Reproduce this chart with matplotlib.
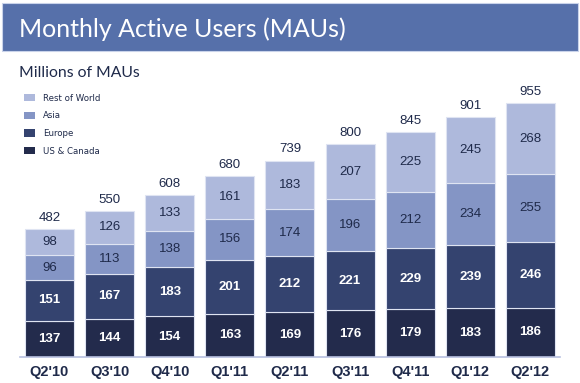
import matplotlib
matplotlib.use("Agg")
import matplotlib.pyplot as plt
from matplotlib.patches import Rectangle
import numpy as np

quarters = ["Q2'10", "Q3'10", "Q4'10", "Q1'11", "Q2'11", "Q3'11", "Q4'11", "Q1'12", "Q2'12"]
us_canada = [137, 144, 154, 163, 169, 176, 179, 183, 186]
europe = [151, 167, 183, 201, 212, 221, 229, 239, 246]
asia = [96, 113, 138, 156, 174, 196, 212, 234, 255]
rest_of_world = [98, 126, 133, 161, 183, 207, 225, 245, 268]
totals = [482, 550, 608, 680, 739, 800, 845, 901, 955]

series = [
    ("US & Canada", us_canada, "#232b4c", "white", "bold"),
    ("Europe", europe, "#34436f", "white", "bold"),
    ("Asia", asia, "#8495c5", "#1f2a4a", "normal"),
    ("Rest of World", rest_of_world, "#aeb9dc", "#1f2a4a", "normal"),
]

W, H = 580, 383
fig = plt.figure(figsize=(W / 100, H / 100), dpi=100)
fig.patch.set_facecolor("white")

# banner
bx0, by0, bx1, by1 = 2, 3, 578, 51
fig.patches.append(Rectangle((bx0 / W, 1 - by1 / H), (bx1 - bx0) / W, (by1 - by0) / H,
                             transform=fig.transFigure, facecolor="#5670aa",
                             edgecolor="#c9d3ea", linewidth=0.8))
fig.text(19 / W, 1 - 29 / H, "Monthly Active Users (MAUs)", color="white",
         fontsize=18, family="Lato", va="center", ha="left")
fig.text(19 / W, 1 - 73 / H, "Millions of MAUs", color="#1f2a4a",
         fontsize=11.3, family="Lato", va="center", ha="left")

# axes
ax_left, ax_right = 20, 560
ax_top, ax_base = 90, 357
ax = fig.add_axes([ax_left / W, 1 - ax_base / H, (ax_right - ax_left) / W, (ax_base - ax_top) / H])
pitch = 60.1
c0 = 49.5
ax.set_xlim((ax_left - c0) / pitch, (ax_right - c0) / pitch)
scale = 0.266
ax.set_ylim(0, (ax_base - ax_top) / scale)

x = np.arange(len(quarters))
bottom = np.zeros(len(quarters))
for name, vals, col, tcol, tw in series:
    vals = np.array(vals, dtype=float)
    ax.bar(x, vals, bottom=bottom, width=49 / pitch, color=col, edgecolor="#dfe4f2",
           linewidth=0.8, label=name, zorder=2)
    for xi, b, v in zip(x, bottom, vals):
        ax.text(xi, b + v / 2, f"{int(v)}", ha="center", va="center", color=tcol,
                fontsize=9.5, fontweight=tw, family="Liberation Sans")
    bottom += vals

for xi, t in zip(x, totals):
    ax.text(xi, t + 11 / scale, f"{t}", ha="center", va="center",
            color="#1f2a4a", fontsize=9.5, family="Liberation Sans")

for s in ["top", "right", "left"]:
    ax.spines[s].set_visible(False)
ax.spines["bottom"].set_color("#b8c0e0")
ax.spines["bottom"].set_linewidth(1.2)
ax.set_yticks([])
ax.set_xticks(x)
ax.set_xticklabels(quarters, fontsize=10.5, fontweight="bold", color="#1f2a4a",
                   family="Liberation Sans")
ax.tick_params(axis="x", length=0, pad=6)
ax.patch.set_visible(False)

# legend
handles, labels = ax.get_legend_handles_labels()
leg = fig.legend(handles[::-1], labels[::-1], loc="upper left",
                 bbox_to_anchor=(16 / W, 1 - 86 / H), frameon=False,
                 prop={"size": 6.2, "family": "DejaVu Sans"},
                 handlelength=1.35, handleheight=0.9, labelspacing=1.0,
                 handletextpad=0.9)
for h in leg.legend_handles:
    h.set_edgecolor("none")
for t in leg.get_texts():
    t.set_color("#1f2a4a")

fig.savefig("out.png", dpi=100)
